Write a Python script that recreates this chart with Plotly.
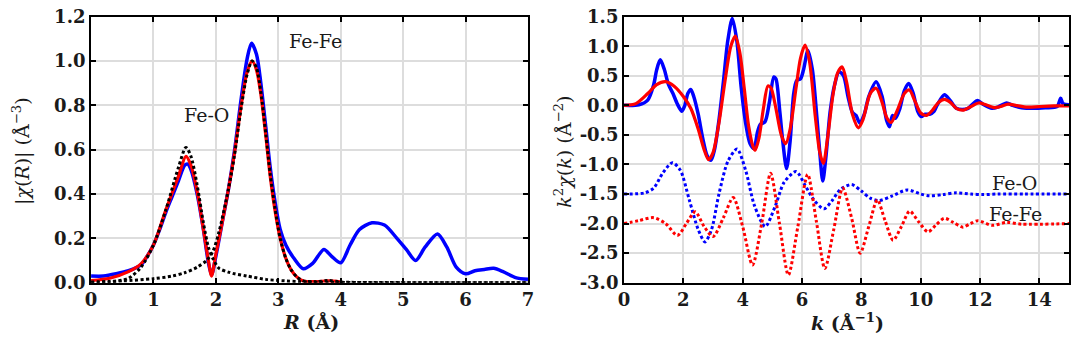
import plotly.graph_objects as go

# ---------------- Left panel: |chi(R)| ----------------
R_exp = [0, 0.2, 0.4, 0.6, 0.8, 0.9, 1.0, 1.1, 1.2, 1.3, 1.4, 1.5, 1.55, 1.6, 1.7, 1.8, 1.88, 1.93,
         2.0, 2.1, 2.2, 2.3, 2.4, 2.5, 2.57, 2.65, 2.72, 2.8, 2.87, 2.95, 3.03, 3.12, 3.25, 3.4,
         3.55, 3.73, 3.85, 4.0, 4.15, 4.3, 4.5, 4.7, 4.9, 5.05, 5.2, 5.35, 5.55, 5.7, 5.85, 6.0,
         6.15, 6.3, 6.45, 6.6, 6.8, 7.0]
chiR_exp = [0.03, 0.03, 0.04, 0.054, 0.08, 0.12, 0.17, 0.24, 0.32, 0.39, 0.46, 0.53, 0.535, 0.51, 0.40,
            0.24, 0.09, 0.035, 0.12, 0.27, 0.42, 0.6, 0.82, 1.01, 1.08, 1.03, 0.9, 0.7, 0.52, 0.36,
            0.24, 0.17, 0.11, 0.063, 0.087, 0.15, 0.12, 0.09, 0.17, 0.24, 0.27, 0.26, 0.2, 0.15,
            0.10, 0.16, 0.22, 0.16, 0.07, 0.04, 0.054, 0.06, 0.065, 0.05, 0.023, 0.015]

R_fit = [0, 0.3, 0.6, 0.8, 1.0, 1.2, 1.4, 1.52, 1.6, 1.7, 1.8, 1.88, 1.93, 2.0, 2.1, 2.2, 2.3, 2.4,
         2.5, 2.58, 2.65, 2.72, 2.8, 2.87, 2.95, 3.03, 3.12, 3.2, 3.3, 3.4, 3.6, 3.8, 4.0]
chiR_fit = [0.01, 0.02, 0.05, 0.085, 0.17, 0.33, 0.48, 0.57, 0.53, 0.41, 0.24, 0.1, 0.03, 0.13, 0.27,
            0.42, 0.59, 0.79, 0.95, 1.0, 0.96, 0.85, 0.66, 0.48, 0.32, 0.2, 0.11, 0.06, 0.025,
            0.008, 0.005, 0.008, 0.004]

R_path = [0, 0.3, 0.6, 0.8, 1.0, 1.2, 1.4, 1.52, 1.6, 1.7, 1.8, 1.88, 1.95, 2.05, 2.2, 2.3, 2.5,
          2.8, 3.0, 3.5, 4.0, 5.0, 6.0, 7.0]
chiR_FeO = [0.0, 0.003, 0.02, 0.07, 0.17, 0.33, 0.52, 0.61, 0.57, 0.44, 0.27, 0.16, 0.11, 0.065, 0.048,
            0.04, 0.03, 0.015, 0.01, 0.003, 0.001, 0.0, 0.0, 0.0]

R_path2 = [0, 0.5, 1.0, 1.3, 1.5, 1.7, 1.85, 1.95, 2.05, 2.2, 2.3, 2.4, 2.5, 2.58, 2.65, 2.72, 2.8,
           2.87, 2.95, 3.03, 3.12, 3.2, 3.3, 3.4, 3.6, 3.8, 4.0, 4.5, 5.5, 7.0]
chiR_FeFe = [0.003, 0.008, 0.018, 0.03, 0.045, 0.07, 0.1, 0.14, 0.23, 0.42, 0.58, 0.78, 0.94, 1.0,
             0.97, 0.86, 0.67, 0.49, 0.33, 0.2, 0.11, 0.06, 0.025, 0.008, 0.004, 0.01, 0.003,
             0.001, 0.0, 0.0]

# ---------------- Right panel: k^2 chi(k) ----------------
k_exp = [0, 0.5, 0.8, 1.0, 1.1, 1.22, 1.35, 1.5, 1.65, 1.8, 1.95, 2.05, 2.15, 2.25, 2.35, 2.5, 2.65,
         2.8, 2.93, 3.05, 3.2, 3.35, 3.5, 3.65, 3.8, 3.95, 4.1, 4.25, 4.38, 4.5, 4.6, 4.75, 4.9,
         5.05, 5.12, 5.25, 5.35, 5.48, 5.6, 5.72, 5.82, 5.95, 6.05, 6.2, 6.35, 6.5, 6.6, 6.7, 6.8,
         6.95, 7.1, 7.25, 7.4, 7.55, 7.7, 7.82, 7.95, 8.1, 8.25, 8.5, 8.7, 8.85, 8.95, 9.05, 9.15,
         9.3, 9.45, 9.6, 9.75, 9.9, 10.02, 10.15, 10.3, 10.45, 10.55, 10.8, 11.0, 11.2, 11.4, 11.6,
         11.9, 12.1, 12.4, 12.6, 12.9, 13.1, 13.4, 13.8, 14.2, 14.6, 14.72, 14.8, 15.0]
k2chi_exp = [0, 0.01, 0.09, 0.35, 0.6, 0.77, 0.62, 0.35, 0.2, 0.02, -0.1, 0.0, 0.2, 0.27, 0.15, -0.15,
             -0.55, -0.85, -0.93, -0.75, -0.25, 0.4, 1.1, 1.47, 1.1, 0.3, -0.3, -0.65, -0.73, -0.45,
             -0.32, -0.28, 0.05, 0.48, 0.45, -0.1, -0.6, -1.07, -0.6, 0.2, 0.42, 0.45, 0.6, 0.93,
             0.6, -0.2, -0.8, -1.28, -0.9, -0.1, 0.35, 0.57, 0.5, 0.15, -0.12, -0.17, -0.3, -0.15,
             0.15, 0.4, 0.15, -0.25, -0.36, -0.17, -0.22, -0.05, 0.25, 0.37, 0.2, -0.1, -0.19,
             -0.15, -0.15, -0.1, 0.0, 0.18, 0.08, -0.05, -0.07, -0.05, 0.08, 0.02, -0.05, -0.03,
             0.04, 0.0, -0.04, -0.05, -0.04, -0.02, 0.12, 0.03, 0.01]

k_fit = [0, 0.4, 0.8, 1.1, 1.4, 1.7, 2.0, 2.25, 2.5, 2.7, 2.85, 3.0, 3.2, 3.4, 3.6, 3.75, 3.9, 4.05,
         4.2, 4.35, 4.42, 4.55, 4.7, 4.85, 4.95, 5.1, 5.3, 5.45, 5.6, 5.8, 5.95, 6.1, 6.25, 6.45,
         6.6, 6.72, 6.85, 7.05, 7.2, 7.35, 7.5, 7.7, 7.9, 8.05, 8.3, 8.5, 8.7, 8.85, 9.0, 9.2,
         9.45, 9.62, 9.8, 10.0, 10.2, 10.4, 10.6, 10.8, 11.0, 11.2, 11.45, 11.7, 11.95, 12.2,
         12.5, 12.7, 12.95, 13.2, 13.6, 14.0, 14.5, 15.0]
k2chi_fit = [0, 0.03, 0.2, 0.35, 0.4, 0.32, 0.15, -0.05, -0.4, -0.75, -0.92, -0.8, -0.3, 0.4, 1.0,
             1.17, 0.9, 0.3, -0.35, -0.7, -0.76, -0.55, -0.05, 0.33, 0.3, 0.0, -0.5, -0.65, -0.4,
             0.3, 0.8, 1.02, 0.75, -0.2, -0.8, -0.98, -0.6, 0.2, 0.55, 0.65, 0.4, -0.15, -0.38,
             -0.25, 0.2, 0.29, 0.05, -0.2, -0.29, -0.1, 0.2, 0.26, 0.08, -0.13, -0.17, -0.08, 0.05,
             0.1, 0.05, -0.05, -0.08, -0.02, 0.04, 0.01, -0.04, -0.02, 0.02, 0.0, -0.03, -0.02,
             -0.01, -0.01]

k_FeO = [0, 0.7, 1.0, 1.3, 1.63, 1.9, 2.2, 2.5, 2.73, 2.95, 3.2, 3.5, 3.81, 4.1, 4.4, 4.76, 5.1,
         5.4, 5.8, 6.1, 6.4, 6.74, 7.0, 7.3, 7.67, 8.0, 8.3, 8.6, 9.05, 9.55, 10.0, 10.3, 10.75,
         11.2, 11.7, 12.1, 12.6, 13.5, 15.0]
k2chi_FeO = [-1.5, -1.48, -1.4, -1.15, -0.97, -1.1, -1.6, -2.1, -2.31, -2.1, -1.5, -0.95, -0.74,
             -1.1, -1.7, -2.05, -1.7, -1.3, -1.12, -1.35, -1.6, -1.75, -1.62, -1.42, -1.34, -1.45,
             -1.57, -1.61, -1.53, -1.43, -1.5, -1.53, -1.51, -1.48, -1.5, -1.51, -1.5, -1.5, -1.5]

k_FeFe = [0, 0.5, 1.0, 1.4, 1.8, 2.1, 2.4, 2.7, 3.0, 3.35, 3.68, 4.0, 4.33, 4.64, 4.94, 5.24, 5.54,
          5.86, 6.19, 6.48, 6.77, 7.07, 7.37, 7.67, 7.96, 8.25, 8.54, 8.8, 9.07, 9.35, 9.63, 9.93,
          10.25, 10.52, 10.8, 11.1, 11.42, 11.68, 11.93, 12.4, 12.9, 13.4, 15.0]
k2chi_FeFe = [-2.0, -1.95, -1.9, -2.0, -2.2, -2.0, -1.8, -2.05, -2.22, -1.9, -1.56, -2.05, -2.7,
              -2.0, -1.15, -2.0, -2.87, -2.05, -1.17, -1.95, -2.76, -2.1, -1.4, -1.9, -2.5, -2.05,
              -1.6, -1.95, -2.28, -2.05, -1.79, -1.97, -2.14, -2.02, -1.91, -1.98, -2.06, -2.0,
              -1.95, -2.03, -1.98, -2.01, -2.0]

R_ticks = [0, 1, 2, 3, 4, 5, 6, 7]
chiR_ticks = [0.0, 0.2, 0.4, 0.6, 0.8, 1.0, 1.2]
chiR_ticktext = ["0.0", "0.2", "0.4", "0.6", "0.8", "1.0", "1.2"]
k_ticks = [0, 2, 4, 6, 8, 10, 12, 14]
k2_ticks = [-3.0, -2.5, -2.0, -1.5, -1.0, -0.5, 0.0, 0.5, 1.0, 1.5]
k2_ticktext = ["-3.0", "-2.5", "-2.0", "-1.5", "-1.0", "-0.5", "0.0", "0.5", "1.0", "1.5"]

BLUE = "#0000ff"
RED = "#ff0000"
SERIF = "DejaVu Serif"
DOT = "3px,2.5px"
INK = "#1a1a1a"

fig = go.Figure()

# left panel traces
fig.add_trace(go.Scatter(x=R_exp, y=chiR_exp, mode="lines", line=dict(color=BLUE, width=3.5, shape="spline", smoothing=0.8), xaxis="x", yaxis="y"))
fig.add_trace(go.Scatter(x=R_fit, y=chiR_fit, mode="lines", line=dict(color=RED, width=3.2, shape="spline", smoothing=0.8), xaxis="x", yaxis="y"))
fig.add_trace(go.Scatter(x=R_path, y=chiR_FeO, mode="lines", line=dict(color="black", width=3, dash=DOT, shape="spline", smoothing=0.8), xaxis="x", yaxis="y"))
fig.add_trace(go.Scatter(x=R_path2, y=chiR_FeFe, mode="lines", line=dict(color="black", width=3, dash=DOT, shape="spline", smoothing=0.8), xaxis="x", yaxis="y"))

# right panel traces
fig.add_trace(go.Scatter(x=k_exp, y=k2chi_exp, mode="lines", line=dict(color=BLUE, width=3.5, shape="spline", smoothing=0.8), xaxis="x2", yaxis="y2"))
fig.add_trace(go.Scatter(x=k_fit, y=k2chi_fit, mode="lines", line=dict(color=RED, width=3.2, shape="spline", smoothing=0.8), xaxis="x2", yaxis="y2"))
fig.add_trace(go.Scatter(x=k_FeO, y=k2chi_FeO, mode="lines", line=dict(color=BLUE, width=3, dash=DOT, shape="spline", smoothing=0.8), xaxis="x2", yaxis="y2"))
fig.add_trace(go.Scatter(x=k_FeFe, y=k2chi_FeFe, mode="lines", line=dict(color=RED, width=3, dash=DOT, shape="spline", smoothing=0.8), xaxis="x2", yaxis="y2"))

tickfont = dict(family=SERIF, size=18, color=INK, weight="bold")
common = dict(showline=True, linecolor="black", linewidth=2, mirror="ticks", ticks="inside",
              ticklen=5, tickwidth=1.5, tickcolor="black", showgrid=True, gridcolor="#dddddd",
              gridwidth=1.5, zeroline=False, tickfont=tickfont, automargin=False,
              ticklabeloverflow="allow")

y0, y1 = 0.1968, 0.9746
annfont = dict(family=SERIF, size=19, color=INK)
xtitlefont = dict(family=SERIF, size=19, color=INK, weight="bold")
ytitlefont = dict(family=SERIF, size=19, color=INK)
C = dict(showarrow=False, xanchor="center", yanchor="middle")
fig.update_layout(
    width=1080, height=342, margin=dict(l=0, r=0, t=0, b=0, autoexpand=False),
    paper_bgcolor="white", plot_bgcolor="white", showlegend=False,
    font=dict(family=SERIF),
    xaxis=dict(domain=[0.0769, 0.4815], range=[0, 7], tickvals=R_ticks, anchor="y", **common),
    yaxis=dict(domain=[y0, y1], range=[0, 1.2], tickvals=chiR_ticks, ticktext=chiR_ticktext, anchor="x", **common),
    xaxis2=dict(domain=[0.5704, 0.9824], range=[0, 15], tickvals=k_ticks, anchor="y2", **common),
    yaxis2=dict(domain=[y0, y1], range=[-3, 1.5], tickvals=k2_ticks, ticktext=k2_ticktext, anchor="x2", **common),
    annotations=[
        # axis titles
        dict(x=0.2806, y=0.0819, xref="paper", yref="paper", text="<i>R</i> (Å)", font=xtitlefont, **C),
        dict(x=0.0130, y=0.582, xref="paper", yref="paper", text="|<i>χ</i>(<i>R</i>)| (Å<sup>−3</sup>)", textangle=-90, font=ytitlefont, **C),
        dict(x=0.7769, y=0.0819, xref="paper", yref="paper", text="<i>k</i> (Å<sup>−1</sup>)", font=xtitlefont, **C),
        dict(x=0.5139, y=0.580, xref="paper", yref="paper", text="<i>k</i><sup>2</sup><i>χ</i>(<i>k</i>) (Å<sup>−2</sup>)", textangle=-90, font=ytitlefont, **C),
        # curve labels
        dict(x=3.6, y=1.09, xref="x", yref="y", text="Fe-Fe", font=annfont, **C),
        dict(x=1.85, y=0.755, xref="x", yref="y", text="Fe-O", font=annfont, **C),
        dict(x=13.17, y=-1.32, xref="x2", yref="y2", text="Fe-O", font=annfont, **C),
        dict(x=13.2, y=-1.83, xref="x2", yref="y2", text="Fe-Fe", font=annfont, **C),
    ],
)

fig.write_html("out.html")
